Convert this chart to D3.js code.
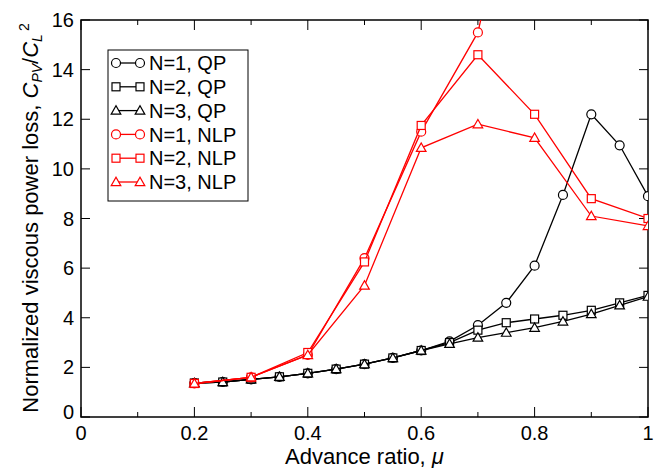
<!DOCTYPE html>
<html><head><meta charset="utf-8">
<script src="https://cdn.jsdelivr.net/npm/d3@7"></script>
<style>
body{margin:0;background:#fff;}
text{font-family:"Liberation Sans",Arial,sans-serif;fill:#000;}
</style></head>
<body><svg id="c" width="655" height="468"></svg>
<script>
const muQP = [0.2,0.25,0.3,0.35,0.4,0.45,0.5,0.55,0.6,0.65,0.7,0.75,0.8,0.85,0.9,0.95,1.0];
const qpN1 = [1.37,1.41,1.52,1.62,1.76,1.93,2.13,2.38,2.68,3.05,3.7,4.6,6.1,8.95,12.2,10.95,8.9];
const qpN2 = [1.37,1.41,1.52,1.62,1.76,1.93,2.13,2.38,2.68,3.0,3.5,3.8,3.95,4.1,4.3,4.6,4.9];
const qpN3 = [1.37,1.41,1.52,1.62,1.76,1.93,2.13,2.38,2.68,2.95,3.2,3.4,3.6,3.85,4.15,4.5,4.85];
const muNLP = [0.2,0.3,0.4,0.5,0.6,0.7,0.8,0.9,1.0];
const nlpN1 = [1.35,1.6,2.5,6.4,11.5,15.5,25.5];
const nlpN2 = [1.35,1.6,2.6,6.25,11.75,14.6,12.2,8.8,8.0];
const nlpN3 = [1.35,1.6,2.5,5.3,10.85,11.8,11.25,8.1,7.7];
const seriesNames = ["N=1, QP","N=2, QP","N=3, QP","N=1, NLP","N=2, NLP","N=3, NLP"];
const xTicks = [0,0.2,0.4,0.6,0.8,1];
const yTicks = [0,2,4,6,8,10,12,14,16];

const series = [
  {name:seriesNames[0], x:muQP, y:qpN1, color:"#000", shape:"circle"},
  {name:seriesNames[1], x:muQP, y:qpN2, color:"#000", shape:"square"},
  {name:seriesNames[2], x:muQP, y:qpN3, color:"#000", shape:"triangle"},
  {name:seriesNames[3], x:muNLP, y:nlpN1, color:"#ff0000", shape:"circle"},
  {name:seriesNames[4], x:muNLP, y:nlpN2, color:"#ff0000", shape:"square"},
  {name:seriesNames[5], x:muNLP, y:nlpN3, color:"#ff0000", shape:"triangle"}
];

const L=81, R=648, T=20, B=417;
const x = d3.scaleLinear().domain([0,1]).range([L,R]);
const y = d3.scaleLinear().domain([0,16]).range([B,T]);
const svg = d3.select("#c");

svg.append("defs").append("clipPath").attr("id","clip")
  .append("rect").attr("x",L).attr("y",T).attr("width",R-L).attr("height",B-T);

// ticks
const minorX = d3.range(0,1.0001,0.1);
const gAx = svg.append("g").attr("stroke","#000").attr("stroke-width",1);
minorX.forEach(v=>{
  const major = Math.abs(v*5 - Math.round(v*5))<1e-6;
  const len = major?10:5;
  gAx.append("line").attr("x1",x(v)).attr("x2",x(v)).attr("y1",B).attr("y2",B-len);
  gAx.append("line").attr("x1",x(v)).attr("x2",x(v)).attr("y1",T).attr("y2",T+len);
});
yTicks.forEach(v=>{
  gAx.append("line").attr("x1",L).attr("x2",L+9).attr("y1",y(v)).attr("y2",y(v));
  gAx.append("line").attr("x1",R).attr("x2",R-9).attr("y1",y(v)).attr("y2",y(v));
});
svg.append("rect").attr("x",L).attr("y",T).attr("width",R-L).attr("height",B-T)
  .attr("fill","none").attr("stroke","#000").attr("stroke-width",1.5);

// tick labels
svg.append("g").selectAll("text").data(xTicks).join("text")
  .attr("x",d=>x(d)).attr("y",B+23).attr("text-anchor","middle")
  .attr("font-size",20).text(d=>d3.format("~g")(d));
svg.append("g").selectAll("text").data(yTicks).join("text")
  .attr("x",L-7).attr("y",d=>y(d)).attr("dy",d=>d===0?"0.1em":"0.35em").attr("text-anchor","end")
  .attr("font-size",20).text(d=>d);

// axis titles
const xt = svg.append("text").attr("x",(L+R)/2).attr("y",464).attr("text-anchor","middle").attr("font-size",22);
xt.append("tspan").text("Advance ratio, ");
xt.append("tspan").attr("font-style","italic").text("μ");

const yt = svg.append("text").attr("transform","translate(38,218) rotate(-90)").attr("text-anchor","middle").attr("font-size",22);
yt.append("tspan").text("Normalized viscous power loss, ");
yt.append("tspan").attr("font-style","italic").text("C");
yt.append("tspan").attr("font-size",14).attr("baseline-shift","-25%").attr("font-style","italic").text("PV");
yt.append("tspan").text("/");
yt.append("tspan").attr("font-style","italic").text("C");
yt.append("tspan").attr("font-size",14).attr("baseline-shift","-25%").attr("font-style","italic").text("L");
yt.append("tspan").attr("font-size",14).attr("dx",3).attr("baseline-shift","65%").text("2");

function marker(g, shape, cx, cy, color){
  if(shape==="circle"){
    g.append("circle").attr("cx",cx).attr("cy",cy).attr("r",4.5)
      .attr("fill","#fff").attr("stroke",color).attr("stroke-width",1.2);
  } else if(shape==="square"){
    g.append("rect").attr("x",cx-4).attr("y",cy-4).attr("width",8).attr("height",8)
      .attr("fill","#fff").attr("stroke",color).attr("stroke-width",1.2);
  } else {
    g.append("path").attr("d",`M${cx-4.8},${cy+3.6}L${cx+4.8},${cy+3.6}L${cx},${cy-4.8}Z`)
      .attr("fill","#fff").attr("stroke",color).attr("stroke-width",1.2);
  }
}

const plot = svg.append("g").attr("clip-path","url(#clip)");
const line = d3.line().x(d=>x(d[0])).y(d=>y(d[1]));
series.forEach(s=>{
  const pts = s.x.slice(0,s.y.length).map((v,i)=>[v,s.y[i]]);
  plot.append("path").datum(pts).attr("d",line).attr("fill","none")
    .attr("stroke",s.color).attr("stroke-width",1.3);
  const g = plot.append("g");
  pts.forEach(p=>marker(g,s.shape,x(p[0]),y(p[1]),s.color));
});

// legend
const lg = svg.append("g");
lg.append("rect").attr("x",108).attr("y",50).attr("width",140).attr("height",151)
  .attr("fill","#fff").attr("stroke","#000").attr("stroke-width",1);
series.forEach((s,i)=>{
  const ry = 63 + i*23.8;
  lg.append("line").attr("x1",116).attr("x2",140).attr("y1",ry).attr("y2",ry)
    .attr("stroke",s.color).attr("stroke-width",1.3);
  marker(lg,s.shape,116,ry,s.color);
  marker(lg,s.shape,140,ry,s.color);
  lg.append("text").attr("x",149).attr("y",ry).attr("dy","0.36em").attr("font-size",20).text(s.name);
});
</script></body></html>
